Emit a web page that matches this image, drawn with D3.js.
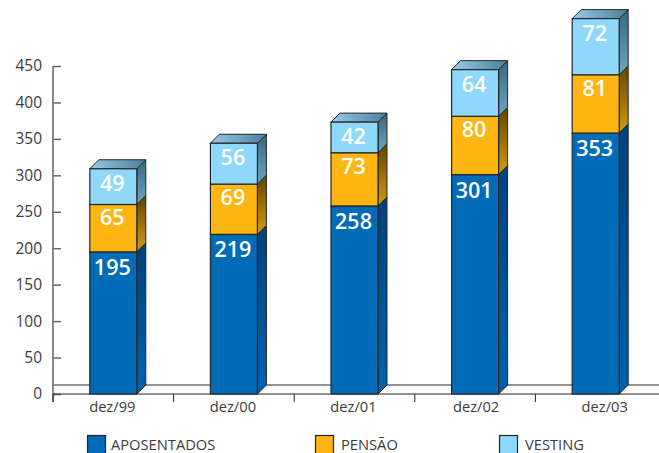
<!DOCTYPE html>
<html>
<head>
<meta charset="utf-8">
<style>
  html, body { margin: 0; padding: 0; background: #fff; }
  svg { display: block; }
  text { font-family: "Open Sans", "Noto Sans", sans-serif; }
</style>
<script src="https://cdn.jsdelivr.net/npm/d3@7"></script>
</head>
<body>
<div id="chart"></div>
<script>
var categories = ["dez/99", "dez/00", "dez/01", "dez/02", "dez/03"];
var seriesNames = ["APOSENTADOS", "PENSÃO", "VESTING"];

// printed labels
var aposentadosLabels = [195, 219, 258, 301, 353];
var pensaoLabels = [65, 69, 73, 80, 81];
var vestingLabels = [49, 56, 42, 64, 72];

// heights as drawn: the dez/03 column stands taller than its labels say
var aposentados = [195, 219, 258, 301, 358];
var pensao = [65, 69, 73, 80, 80];
var vesting = [49, 56, 42, 64, 77];

var yTicks = [0, 50, 100, 150, 200, 250, 300, 350, 400, 450];

var width = 659, height = 453;
var x0 = 53, x1 = 656, y0 = 394, yTop = 66;
var barWidth = 47, depth = 9;
var ink = "#23272b", grey = "#666", textColor = "#3c3c3c";

var svg = d3.select("#chart").append("svg")
  .attr("width", width)
  .attr("height", height);

var x = d3.scaleBand().domain(categories).range([x0, x1]);
var y = d3.scaleLinear().domain([0, 450]).range([y0, yTop]);

var colors = [
  { front: "#006bb6", sideTop: "#00427a", sideBottom: "#0062ab" },
  { front: "#ffb612", sideTop: "#5f4500", sideBottom: "#d29c10" },
  { front: "#8fd8fb", sideTop: "#38667f", sideBottom: "#6fa6c2" }
];

// gradients for the faces
var defs = svg.append("defs");
colors.forEach(function (c, i) {
  var g = defs.append("linearGradient")
    .attr("id", "side" + i)
    .attr("x1", 0).attr("x2", 0).attr("y1", 0).attr("y2", 1);
  g.append("stop").attr("offset", "0%").attr("stop-color", c.sideTop);
  g.append("stop").attr("offset", "100%").attr("stop-color", c.sideBottom);
});
var topGrad = defs.append("linearGradient").attr("id", "topFace");
topGrad.append("stop").attr("offset", "0%").attr("stop-color", "#93cbe6");
topGrad.append("stop").attr("offset", "100%").attr("stop-color", "#4f7f99");

// floor
svg.append("line")
  .attr("x1", x0).attr("x2", width)
  .attr("y1", y0 - depth).attr("y2", y0 - depth)
  .attr("stroke", ink).attr("stroke-width", 1.2);

// y axis
var yAxis = d3.axisLeft(y).tickValues(yTicks).tickSize(0).tickPadding(11);
var yG = svg.append("g").attr("transform", "translate(" + x0 + ",0)").call(yAxis);
yG.select(".domain").remove();
yG.selectAll("text")
  .attr("fill", textColor)
  .style("font-size", "15.5px")
  .style("font-family", "'Open Sans', sans-serif");
yG.selectAll(".tick").append("line")
  .attr("x1", 0).attr("x2", 8)
  .attr("stroke", grey).attr("stroke-width", 1.5);
svg.append("line")
  .attr("x1", x0).attr("x2", x0)
  .attr("y1", yTop).attr("y2", y0 + 8)
  .attr("stroke", grey).attr("stroke-width", 1.5);

// x axis
svg.append("line")
  .attr("x1", x0).attr("x2", width)
  .attr("y1", y0).attr("y2", y0)
  .attr("stroke", ink).attr("stroke-width", 1.2);

var xBoundaries = d3.range(categories.length).map(function (i) {
  return x0 + i * x.bandwidth();
});
svg.selectAll(".xtick")
  .data(xBoundaries)
  .enter()
  .append("line")
  .attr("class", "xtick")
  .attr("x1", function (d) { return d; })
  .attr("x2", function (d) { return d; })
  .attr("y1", y0)
  .attr("y2", y0 + 8)
  .attr("stroke", ink)
  .attr("stroke-width", 1);

// the labels drift off centre in the original, most at dez/03
var xLabelShift = [-1, -1, -1, 1, 9];

svg.selectAll(".xlabel")
  .data(categories)
  .enter()
  .append("text")
  .attr("class", "xlabel")
  .attr("x", function (d, i) { return x(d) + x.bandwidth() / 2 + xLabelShift[i]; })
  .attr("y", 412)
  .attr("text-anchor", "middle")
  .attr("fill", textColor)
  .style("font-size", "14.7px")
  .text(function (d) { return d; });

// columns
var stackRows = categories.map(function (c, i) {
  return { cat: c, a: aposentados[i], p: pensao[i], v: vesting[i] };
});
var stack = d3.stack().keys(["a", "p", "v"])(stackRows);
var labelSets = [aposentadosLabels, pensaoLabels, vestingLabels];

stack.forEach(function (layer, s) {
  var g = svg.append("g");

  layer.forEach(function (d, i) {
    var cat = categories[i];
    var left = x(cat) + (x.bandwidth() - barWidth) / 2;
    var right = left + barWidth;
    var top = y(d[1]), bottom = y(d[0]);

    // side face
    g.append("path")
      .attr("d", "M" + right + "," + top +
        "L" + (right + depth) + "," + (top - depth) +
        "L" + (right + depth) + "," + (bottom - depth) +
        "L" + right + "," + bottom + "Z")
      .attr("fill", "url(#side" + s + ")")
      .attr("stroke", ink)
      .attr("stroke-width", 1);

    // top face only on the last layer
    if (s === stack.length - 1) {
      g.append("path")
        .attr("d", "M" + left + "," + top +
          "L" + (left + depth) + "," + (top - depth) +
          "L" + (right + depth) + "," + (top - depth) +
          "L" + right + "," + top + "Z")
        .attr("fill", "url(#topFace)")
        .attr("stroke", ink)
        .attr("stroke-width", 1);
    }

    g.append("rect")
      .attr("x", left)
      .attr("y", top)
      .attr("width", barWidth)
      .attr("height", bottom - top)
      .attr("fill", colors[s].front)
      .attr("stroke", ink)
      .attr("stroke-width", 1.2);
  });
});

// value labels go last so that no face covers them
var labelDrop = [23, 21, 22];
stack.forEach(function (layer, s) {
  svg.selectAll(".val" + s)
    .data(layer)
    .enter()
    .append("text")
    .attr("class", "val" + s)
    .attr("x", function (d, i) { return x(categories[i]) + x.bandwidth() / 2 - 1; })
    .attr("y", function (d) { return y(d[1]) + labelDrop[s]; })
    .attr("text-anchor", "middle")
    .attr("fill", "#fff")
    .style("font-size", "21.5px")
    .style("font-weight", 600)
    .text(function (d, i) { return labelSets[s][i]; });
});

// legend
var legendX = [87, 315, 499];
var legend = svg.selectAll(".legend")
  .data(seriesNames)
  .enter()
  .append("g")
  .attr("class", "legend")
  .attr("transform", function (d, i) { return "translate(" + legendX[i] + ",435)"; });

legend.append("rect")
  .attr("x", 0.5).attr("y", 0.5)
  .attr("width", 18).attr("height", 19)
  .attr("fill", function (d, i) { return colors[i].front; })
  .attr("stroke", ink)
  .attr("stroke-width", 1.2);

legend.append("text")
  .attr("x", function (d, i) { return i === 0 ? 24 : 26; })
  .attr("y", 15)
  .attr("fill", textColor)
  .style("font-size", "14.7px")
  .text(function (d) { return d; });
</script>
</body>
</html>
